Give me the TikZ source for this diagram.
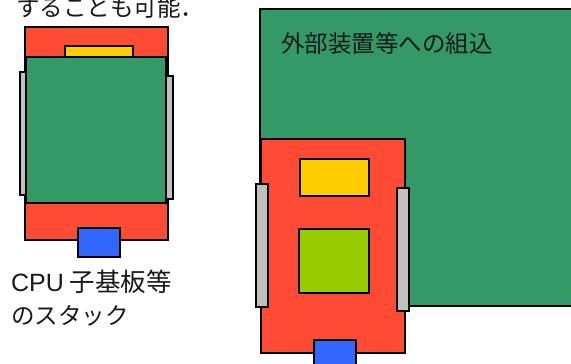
\documentclass[tikz,border=0pt]{standalone}
\usepackage{fontspec}
\newfontfamily\cjk{Noto Sans CJK JP}
\newfontfamily\latin{Liberation Sans}
\definecolor{boardred}{HTML}{FF4B33}
\definecolor{boardgreen}{HTML}{339966}
\definecolor{chipyellow}{HTML}{FFCC00}
\definecolor{chiplime}{HTML}{99CC00}
\definecolor{connblue}{HTML}{3366FF}
\definecolor{conngray}{HTML}{C0C0C0}
\tikzset{
  part/.style={draw=black, line width=1.6pt},
  lbl/.style={inner sep=0pt, anchor=west, font=\cjk\fontsize{23.5}{34}\selectfont, text=black!90},
}
\begin{document}
\begin{tikzpicture}[x=1pt,y=-1pt]
\useasboundingbox (0,0) rectangle (571,364);
% ---------- left: stack ----------
\node[lbl] (t0) at (16,8) {することも可能．};
\filldraw[part, fill=boardred] (25,27) rectangle (168,240);
\filldraw[part, fill=chipyellow] (65,46) rectangle (133,58);
\filldraw[part, fill=conngray] (20,72) rectangle (26,195);
\filldraw[part, fill=conngray] (166,76) rectangle (173,199);
\filldraw[part, fill=boardgreen] (26,57) rectangle (166,203);
\filldraw[part, fill=connblue] (78,228) rectangle (120,257);
\node[lbl, font=\cjk\fontsize{25.5}{34}\selectfont] (t1) at (11,282) {{\latin\fontsize{25}{34}\selectfont CPU} 子基板等};
\node[lbl] (t2) at (11,316) {のスタック};
% ---------- right: embedded ----------
\filldraw[part, fill=boardgreen] (260,9) rectangle (580,306);
\node[lbl] (t3) at (281,44) {外部装置等への組込};
\filldraw[part, fill=boardred] (261,139) rectangle (405,353);
\filldraw[part, fill=chipyellow] (300,159) rectangle (369,196);
\filldraw[part, fill=chiplime] (299,229) rectangle (369,293);
\filldraw[part, fill=conngray] (256,184) rectangle (268,307);
\filldraw[part, fill=conngray] (397,188) rectangle (409,311);
\filldraw[part, fill=connblue] (314,340) rectangle (356,370);
\end{tikzpicture}
\end{document}
